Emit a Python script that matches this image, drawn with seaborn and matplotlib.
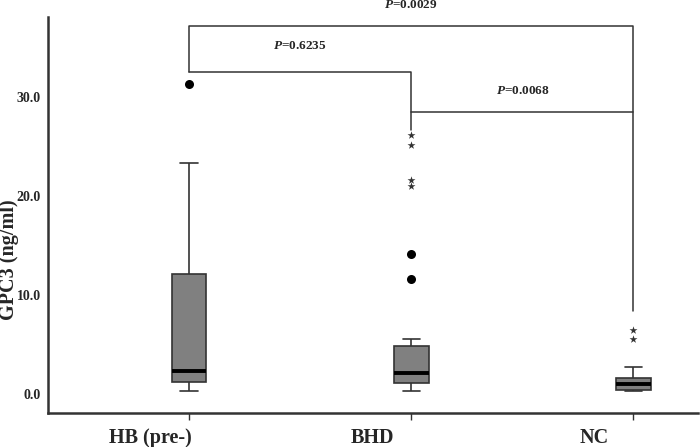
import pandas as pd
import seaborn as sns
import matplotlib.pyplot as plt
from matplotlib.transforms import ScaledTranslation

# -----------------------------
# Data
# -----------------------------

groups = ["HB (pre-)", "BHD", "NC"]
whisker_low = [0.35, 0.35, 0.35]
q1 = [1.2, 1.15, 0.45]
median = [2.3, 2.1, 1.0]
q3 = [12.1, 4.9, 1.6]
whisker_high = [23.3, 5.6, 2.7]

# outliers: circles (mild) and stars (extreme)
circle_group = ["HB (pre-)", "BHD", "BHD"]
circle_value = [31.3, 14.1, 11.6]
star_group = ["BHD", "BHD", "BHD", "BHD", "NC", "NC"]
star_value = [26.2, 25.2, 21.6, 21.0, 6.5, 5.55]

# significance brackets
bracket_pairs = [(0, 2), (0, 1), (1, 2)]
bracket_top = [37.2, 32.5, 28.5]
bracket_left_end = [32.5, 32.5, 28.5]
bracket_right_end = [8.4, 26.7, 28.5]
p_labels = ["0.0029", "0.6235", "0.0068"]
p_text_y = [39.3, 35.2, 30.6]

# -----------------------------
# Setup
# -----------------------------

sns.set_style("white")
plt.rcParams["font.family"] = ["Liberation Serif", "DejaVu Serif"]
plt.rcParams["mathtext.fontset"] = "custom"
plt.rcParams["mathtext.it"] = "Liberation Serif:italic:bold"

rows = []
for i, g in enumerate(groups):
    for v in (whisker_low[i], q1[i], median[i], q3[i], whisker_high[i]):
        rows.append({"group": g, "value": v})
df = pd.DataFrame(rows)
circles = pd.DataFrame({"group": circle_group, "value": circle_value})
stars = pd.DataFrame({"group": star_group, "value": star_value})

fig = plt.figure(figsize=(7, 4.47), dpi=100)
ax = fig.add_axes([0.0686, 0.076, 0.9284, 0.886])

line_col = "#333333"
sns.boxplot(
    data=df, x="group", y="value", order=groups,
    whis=(0, 100), width=0.155, color="#808080", saturation=1,
    linecolor=line_col, linewidth=1.2, showfliers=False,
    medianprops={"color": "black", "linewidth": 2.8},
    ax=ax,
)
sns.stripplot(data=circles, x="group", y="value", order=groups, jitter=False,
              marker="o", color="black", size=6.5, ax=ax)
sns.stripplot(data=stars, x="group", y="value", order=groups, jitter=False,
              marker="*", color="#333333", size=6, ax=ax)

# brackets
for (a, b), top, le, re, p, ty in zip(bracket_pairs, bracket_top, bracket_left_end,
                                      bracket_right_end, p_labels, p_text_y):
    ax.plot([a, a, b, b], [le, top, top, re], color="#333333", lw=1.1, clip_on=False)
    ax.text((a + b) / 2, ty, "$P$=" + p, ha="center", va="center", fontsize=9.5,
            fontweight="bold", clip_on=False)

ax.set_xlim(-0.635, 2.29)
ax.set_ylim(-1.92, 38.08)
ax.set_yticks([0, 10, 20, 30])
ax.set_yticklabels(["0.0", "10.0", "20.0", "30.0"], fontsize=10, fontweight="bold")
ax.set_xticks(range(len(groups)))
ax.set_xticklabels(groups, fontsize=14.5, fontweight="bold")
ax.tick_params(axis="y", length=0, pad=5)
ax.tick_params(axis="x", length=5, width=1, color="#333333", pad=6, bottom=True)
# category labels sit left of their ticks in the original
shift = ScaledTranslation(-0.39, 0, fig.dpi_scale_trans)
for lab in ax.get_xticklabels():
    lab.set_transform(lab.get_transform() + shift)
ax.set_xlabel("")
ax.set_ylabel("GPC3 (ng/ml)", fontsize=14.5, fontweight="bold")
ax.yaxis.set_label_coords(-0.06, 0.386)
ax.yaxis.label.set_verticalalignment("center")

for side in ["top", "right"]:
    ax.spines[side].set_visible(False)
for side in ["left", "bottom"]:
    ax.spines[side].set_color("#333333")
    ax.spines[side].set_linewidth(1.8)

plt.savefig("out.png", dpi=100)
plt.close()
